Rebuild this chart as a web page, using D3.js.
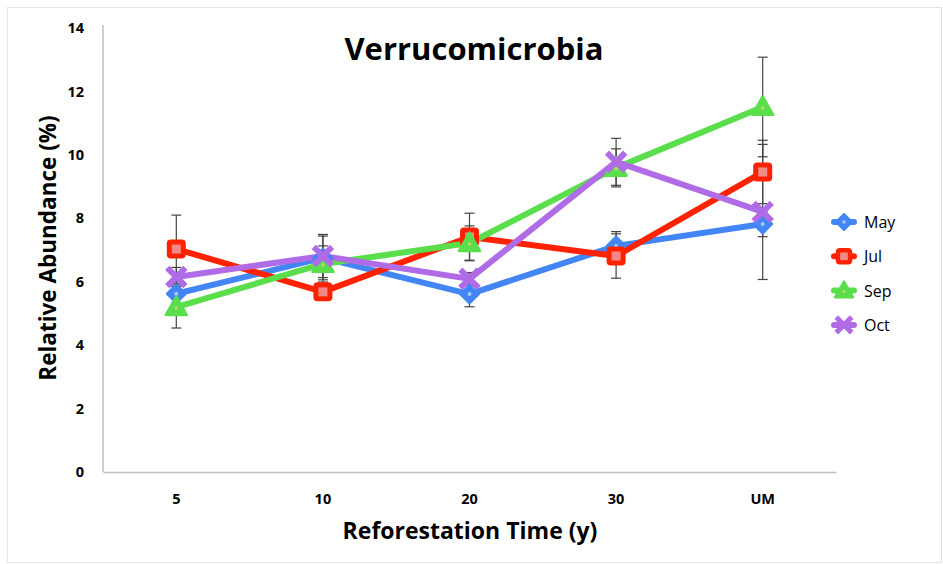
<!DOCTYPE html>
<html><head><meta charset="utf-8">
<script src="https://cdn.jsdelivr.net/npm/d3@7"></script>
<style>body{margin:0;background:#fff}svg{display:block}text{font-family:"Open Sans",sans-serif}</style>
</head><body><svg id="c" width="943" height="564"></svg>
<script>
const categories = ["5","10","20","30","UM"];
const seriesNames = ["May","Jul","Sep","Oct"];
const may = [5.62, 6.75, 5.61, 7.13, 7.82];
const jul = [7.03, 5.68, 7.41, 6.81, 9.46];
const sep = [5.2, 6.56, 7.22, 9.59, 11.51];
const oct = [6.15, 6.81, 6.09, 9.78, 8.2];
const mayErr = [0.3, 0.69, 0.4, 0.45, 0.4];
const julErr = [1.07, 0.2, 0.75, 0.7, 1.0];
const sepErr = [0.66, 0.57, 0.54, 0.6, 1.57];
const octErr = [0.3, 0.68, 0.2, 0.74, 2.13];
const yTicks = [0,2,4,6,8,10,12,14];

const colors = {May:"#4285f4", Jul:"#ff2200", Sep:"#5ade4c", Oct:"#b06ce6"};
const shapes = {May:"diamond", Jul:"square", Sep:"triangle", Oct:"cross"};
const series = [
  {name:"May", values:may, err:mayErr},
  {name:"Jul", values:jul, err:julErr},
  {name:"Sep", values:sep, err:sepErr},
  {name:"Oct", values:oct, err:octErr}
];

const svg = d3.select("#c");
svg.append("rect").attr("x",7.5).attr("y",7.5).attr("width",934).attr("height",555)
  .attr("fill","#fff").attr("stroke","#e3e3e3");

const L=103, R=836, T=28, B=472;
const x = d3.scaleBand().domain(categories).range([L,R]);
const y = d3.scaleLinear().domain([0,14]).range([B,T]);
const cx = c => x(c)+x.bandwidth()/2;

// axes
const xa = svg.append("g").attr("transform",`translate(0,${B})`)
  .call(d3.axisBottom(x).tickSize(0).tickPadding(22));
xa.select(".domain").attr("stroke","#c0c0c0").attr("stroke-width",1.5);
xa.selectAll("text").attr("font-size",14.5).attr("font-weight","bold").attr("fill","#000");
const ya = svg.append("g").attr("transform",`translate(${L},0)`)
  .call(d3.axisLeft(y).tickValues(yTicks).tickSize(0).tickPadding(19));
ya.select(".domain").attr("stroke","#c0c0c0").attr("stroke-width",1.5).attr("d",`M0,${y(14)-3}V${B}`);
ya.selectAll("text").attr("font-size",14.5).attr("font-weight","bold").attr("fill","#000");

// error bars
const eg = svg.append("g").attr("stroke","#444").attr("stroke-width",1.2);
series.forEach(s=>{
  categories.forEach((c,i)=>{
    const v=s.values[i], e=s.err[i], px=cx(c);
    eg.append("line").attr("x1",px).attr("x2",px).attr("y1",y(v-e)).attr("y2",y(v+e));
    [v-e,v+e].forEach(t=>eg.append("line").attr("x1",px-5).attr("x2",px+5).attr("y1",y(t)).attr("y2",y(t)));
  });
});

// lines
const line = d3.line().x((d,i)=>cx(categories[i])).y(d=>y(d));
series.forEach(s=>{
  svg.append("path").datum(s.values).attr("d",line).attr("fill","none")
    .attr("stroke",colors[s.name]).attr("stroke-width",6).attr("stroke-linejoin","round");
});

function marker(g, shape, color, px, py, sc){
  sc = sc||1;
  if(shape==="diamond"){
    const r=9.5*sc;
    g.append("path").attr("d",`M${px},${py-r}L${px+r},${py}L${px},${py+r}L${px-r},${py}Z`)
      .attr("fill",color).attr("stroke",color).attr("stroke-width",2).attr("stroke-linejoin","round");
    g.append("circle").attr("cx",px).attr("cy",py).attr("r",2*sc).attr("fill","#a9c6f7");
  } else if(shape==="square"){
    const r=8.5*sc;
    g.append("rect").attr("x",px-r).attr("y",py-r).attr("width",2*r).attr("height",2*r).attr("rx",3)
      .attr("fill",color).attr("stroke",color).attr("stroke-width",2);
    g.append("rect").attr("x",px-4.5*sc).attr("y",py-4.5*sc).attr("width",9*sc).attr("height",9*sc)
      .attr("fill","#f08a88");
  } else if(shape==="triangle"){
    const r=10.5*sc;
    g.append("path").attr("d",`M${px},${py-r}L${px+r},${py+r*0.75}L${px-r},${py+r*0.75}Z`)
      .attr("fill",color).attr("stroke",color).attr("stroke-width",2.5).attr("stroke-linejoin","round");
    g.append("circle").attr("cx",px).attr("cy",py+1).attr("r",1.6*sc).attr("fill","#c9d96a");
  } else {
    const r=7*sc;
    g.append("path").attr("d",`M${px-r},${py-r}L${px+r},${py+r}M${px+r},${py-r}L${px-r},${py+r}`)
      .attr("stroke",color).attr("stroke-width",6*sc).attr("stroke-linecap","square");
  }
}
series.forEach(s=>{
  const g = svg.append("g");
  categories.forEach((c,i)=>marker(g, shapes[s.name], colors[s.name], cx(c), y(s.values[i])));
});

// legend
const lg = svg.append("g");
series.forEach((s,i)=>{
  const ly = 222 + i*34.3;
  lg.append("line").attr("x1",834).attr("x2",854).attr("y1",ly).attr("y2",ly)
    .attr("stroke",colors[s.name]).attr("stroke-width",6).attr("stroke-linecap","round");
  marker(lg, shapes[s.name], colors[s.name], 844, ly, 0.85);
  lg.append("text").attr("x",864).attr("y",ly+6).attr("font-size",16).attr("fill","#000").text(s.name);
});

// titles
svg.append("text").attr("x",474).attr("y",60).attr("text-anchor","middle")
  .attr("font-size",31).attr("font-weight","bold").attr("fill","#000").text("Verrucomicrobia");
svg.append("text").attr("x",470).attr("y",539).attr("text-anchor","middle")
  .attr("font-size",23).attr("font-weight","bold").attr("fill","#000").text("Reforestation Time (y)");
svg.append("text").attr("transform","translate(56,248) rotate(-90)").attr("text-anchor","middle")
  .attr("font-size",22.5).attr("font-weight","bold").attr("fill","#000").text("Relative Abundance (%)");
</script></body></html>
